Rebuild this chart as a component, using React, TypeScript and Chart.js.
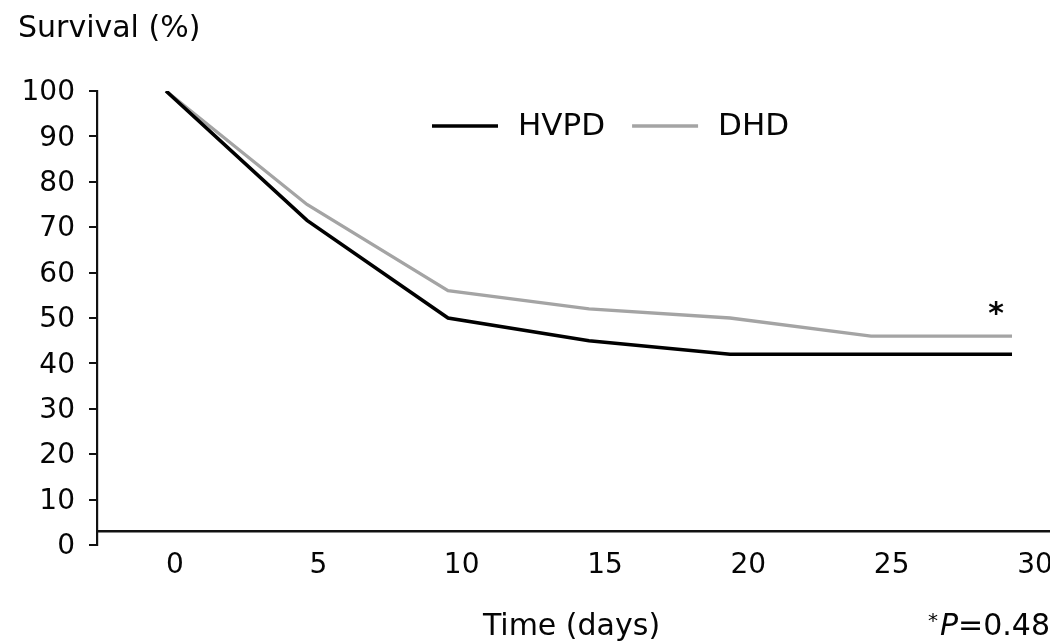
import React, { useEffect, useRef } from "react";
import { Chart, registerables } from "chart.js";

Chart.register(...registerables);

// ---- data ----
const days = [0, 5, 10, 15, 20, 25, 30];
const hvpdSurvival = [100, 71.5, 50, 45, 42, 42, 42];
const dhdSurvival = [100, 75, 56, 52, 50, 46, 46];
const seriesNames = ["HVPD", "DHD"];
const seriesColors = ["#000000", "#a4a4a4"];
const yTickValues = [0, 10, 20, 30, 40, 50, 60, 70, 80, 90, 100];
const xTickValues = [0, 5, 10, 15, 20, 25, 30];
const yTitle = "Survival (%)";
const xTitle = "Time (days)";
const pValue = "0.48";

const FONT = "'DejaVu Sans', 'Liberation Sans', sans-serif";
const INK = "#050505";
const AXIS = "#111111";

const extraText = {
  id: "extraText",
  afterDraw(chart: any) {
    const { ctx, chartArea, scales } = chart;
    ctx.save();
    ctx.fillStyle = INK;

    // legend inside the plot
    const ly = chartArea.top + 35;
    ctx.font = `31px ${FONT}`;
    ctx.textBaseline = "middle";
    ctx.textAlign = "left";
    let lx = chartArea.left + 335;
    chart.data.datasets.forEach((ds: any) => {
      ctx.strokeStyle = ds.borderColor;
      ctx.lineWidth = ds.borderWidth;
      ctx.beginPath();
      ctx.moveTo(lx, ly);
      ctx.lineTo(lx + 66, ly);
      ctx.stroke();
      ctx.fillStyle = INK;
      ctx.fillText(ds.label, lx + 86, ly + 1);
      lx += 86 + ctx.measureText(ds.label).width + 27;
    });

    // asterisk next to the end of the DHD curve
    const xs = scales.x;
    const ys = scales.y;
    const lastX = days[days.length - 1];
    const lastY = dhdSurvival[dhdSurvival.length - 1];
    const sx = xs.getPixelForValue(lastX) - 16;
    const sy = ys.getPixelForValue(lastY) - 13;
    ctx.font = `bold 30px ${FONT}`;
    ctx.textAlign = "center";
    ctx.textBaseline = "alphabetic";
    ctx.fillText("*", sx, sy);

    // x axis title
    const base = chartArea.bottom + 90;
    ctx.font = `30px ${FONT}`;
    ctx.textAlign = "center";
    ctx.fillText(xTitle, (chartArea.left + chartArea.right) / 2 - 2, base);

    // *P = 0.48 (right aligned)
    let rx = chartArea.right;
    ctx.textAlign = "right";
    ctx.font = `30px ${FONT}`;
    const tail = "=" + pValue;
    ctx.fillText(tail, rx, base);
    rx -= ctx.measureText(tail).width;
    ctx.font = `italic 30px ${FONT}`;
    ctx.fillText("P", rx, base);
    rx -= ctx.measureText("P").width + 2;
    ctx.font = `20px ${FONT}`;
    ctx.fillText("*", rx, base - 8);

    ctx.restore();
  },
};

export default function App() {
  const canvasRef = useRef<HTMLCanvasElement | null>(null);

  useEffect(() => {
    document.documentElement.style.overflow = "hidden";
    document.body.style.overflow = "hidden";
    const canvas = canvasRef.current;
    if (!canvas) return;

    const chart = new Chart(canvas, {
      type: "line",
      data: {
        labels: days,
        datasets: [
          {
            label: seriesNames[0],
            data: days.map((d, i) => ({ x: d, y: hvpdSurvival[i] })),
            borderColor: seriesColors[0],
            backgroundColor: seriesColors[0],
            borderWidth: 3.6,
            pointRadius: 0,
            tension: 0,
            xAxisID: "x",
            yAxisID: "y",
            order: 1,
          },
          {
            label: seriesNames[1],
            data: days.map((d, i) => ({ x: d, y: dhdSurvival[i] })),
            borderColor: seriesColors[1],
            backgroundColor: seriesColors[1],
            borderWidth: 3.3,
            pointRadius: 0,
            tension: 0,
            xAxisID: "x",
            yAxisID: "y",
            order: 2,
          },
        ],
      },
      options: {
        animation: false,
        responsive: true,
        maintainAspectRatio: false,
        layout: { padding: { left: 10, right: 0, top: 0, bottom: 98 } },
        plugins: {
          legend: { display: false },
          tooltip: { enabled: false },
          title: {
            display: true,
            text: yTitle,
            align: "start",
            color: INK,
            font: { family: FONT, size: 30, weight: "normal" },
            padding: { top: 3, bottom: 44 },
          },
        },
        scales: {
          x: {
            type: "linear",
            display: false,
            min: -2.447,
            max: 31.347,
          },
          x2: {
            type: "linear",
            position: { y: 3 } as any,
            min: -2.721,
            max: 30.523,
            afterBuildTicks: (s: any) => {
              s.ticks = xTickValues.map((v) => ({ value: v }));
            },
            afterFit: (s: any) => {
              s.paddingLeft = 0;
              s.paddingRight = 0;
            },
            grid: { display: true, drawOnChartArea: false, drawTicks: false },
            border: { display: true, color: AXIS, width: 2.5 },
            ticks: {
              color: INK,
              font: { family: FONT, size: 28 },
              padding: 18,
              autoSkip: false,
              maxRotation: 0,
              callback: (v: any) => String(v),
            },
          },
          y: {
            type: "linear",
            position: "left",
            min: 0,
            max: 100,
            afterBuildTicks: (s: any) => {
              s.ticks = yTickValues.map((v) => ({ value: v }));
            },
            afterFit: (s: any) => {
              s.width = 79;
            },
            grid: {
              display: true,
              drawOnChartArea: false,
              drawTicks: true,
              tickLength: 8,
              color: AXIS,
              lineWidth: 2,
            },
            border: { display: true, color: AXIS, width: 2.2 },
            ticks: {
              color: INK,
              font: { family: FONT, size: 28 },
              padding: 14,
              labelOffset: 2,
              callback: (v: any) => String(v),
            },
          },
        },
      },
      plugins: [extraText],
    });

    return () => chart.destroy();
  }, []);

  return (
    <div style={{ width: 1042, height: 635, position: "relative" }}>
      <canvas ref={canvasRef} />
    </div>
  );
}
